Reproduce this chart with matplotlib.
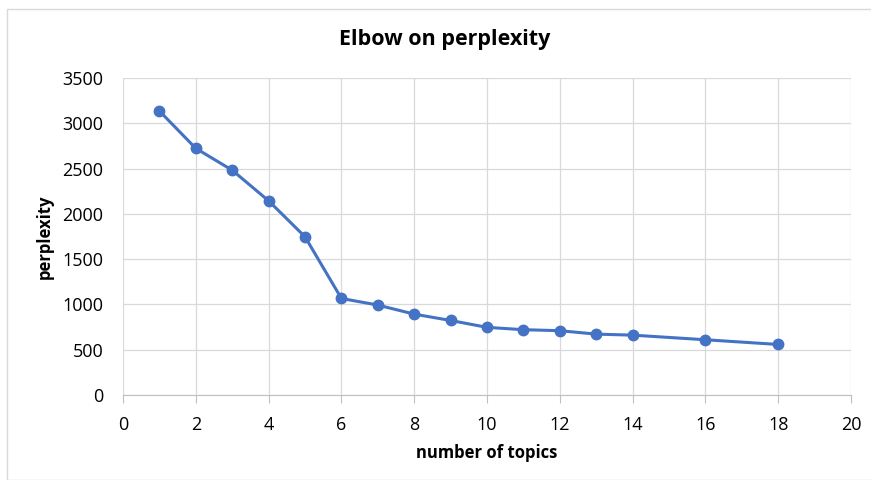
import matplotlib.pyplot as plt
from matplotlib.patches import Rectangle

topics = [1, 2, 3, 4, 5, 6, 7, 8, 9, 10, 11, 12, 13, 14, 16, 18]
perplexity = [3136, 2723, 2482, 2144, 1747, 1066, 993, 893, 823, 747, 721, 710, 672, 661, 610, 558]

plt.rcParams['font.family'] = ['Open Sans', 'DejaVu Sans']

fig = plt.figure(figsize=(8.71, 4.8), dpi=100)
# chart border like the spreadsheet chart frame
fig.patches.append(Rectangle((7 / 871, 0), 1, 1 - 9 / 480, transform=fig.transFigure,
                             fill=False, edgecolor='#d9d9d9', linewidth=1))

ax = fig.add_axes([123 / 871, 85 / 480, 728 / 871, 317 / 480])
ax.plot(topics, perplexity, color='#4472C4', linewidth=2.2, marker='o', markersize=7.5)

ax.set_xlim(0, 20)
ax.set_ylim(0, 3500)
ax.set_xticks(range(0, 21, 2))
ax.set_yticks(range(0, 3501, 500))
ax.grid(True, color='#d9d9d9', linewidth=0.9)
ax.set_axisbelow(True)

for side in ['top', 'right', 'left']:
    ax.spines[side].set_visible(False)
ax.spines['bottom'].set_color('#bfbfbf')
ax.tick_params(axis='y', length=0, labelsize=13, pad=14)
ax.tick_params(axis='x', length=6, color='#bfbfbf', labelsize=13, pad=9)

fig.text(445 / 871, 1 - 39 / 480, "Elbow on perplexity", ha='center', va='center',
         fontsize=15.5, fontweight='bold')
ax.set_xlabel("number of topics", fontsize=12, fontweight='bold', va='center')
ax.xaxis.set_label_coords(0.5, (395 - 453) / 317)
ax.set_ylabel("perplexity", fontsize=12, fontweight='bold', va='center')
ax.yaxis.set_label_coords((45 - 123) / 728, 0.5)

plt.savefig('out.png', dpi=100)
